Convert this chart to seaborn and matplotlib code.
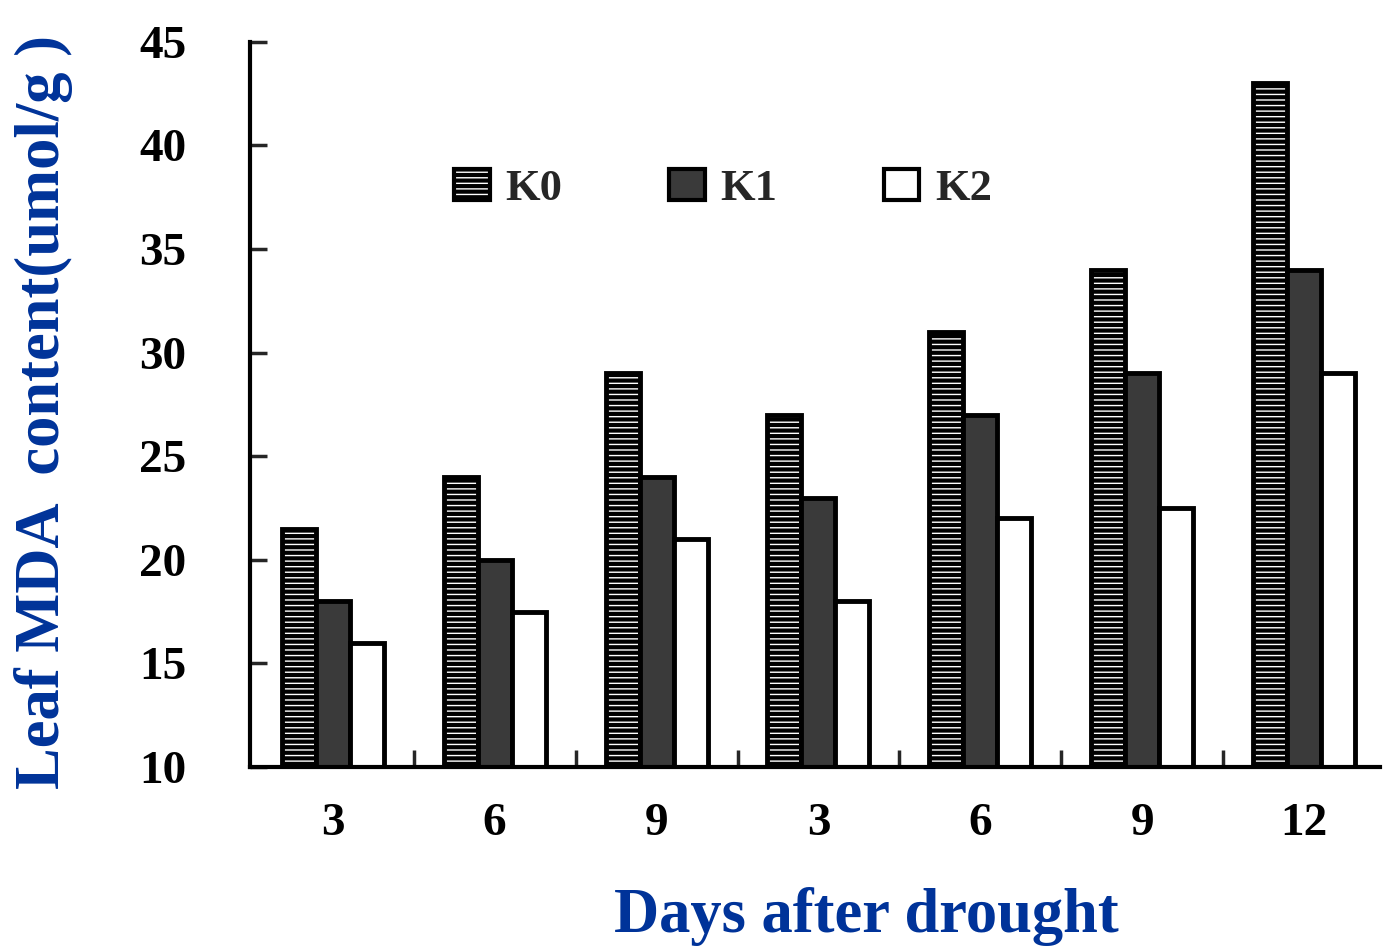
import matplotlib
matplotlib.use("Agg")
import matplotlib.pyplot as plt
import seaborn as sns
import pandas as pd
import numpy as np
from matplotlib.patches import Patch

groups = ["g1", "g2", "g3", "g4", "g5", "g6", "g7"]
day_labels = ["3", "6", "9", "3", "6", "9", "12"]
series = ["K0", "K1", "K2"]
k0 = [21.5, 24.0, 29.0, 27.0, 31.0, 34.0, 43.0]
k1 = [18.0, 20.0, 24.0, 23.0, 27.0, 29.0, 34.0]
k2 = [16.0, 17.5, 21.0, 18.0, 22.0, 22.5, 29.0]
y_ticks = [10, 15, 20, 25, 30, 35, 40, 45]

df = pd.DataFrame({
    "group": groups * 3,
    "series": ["K0"] * 7 + ["K1"] * 7 + ["K2"] * 7,
    "value": k0 + k1 + k2,
})

sns.set_theme(style="white")
plt.rcParams["font.family"] = ["Liberation Serif", "DejaVu Serif"]
plt.rcParams["hatch.linewidth"] = 3.0

fig = plt.figure(figsize=(13.9, 9.47), dpi=100)
ax = fig.add_axes([0.18, 0.19, 0.813, 0.766])

sns.barplot(data=df, x="group", y="value", hue="series", order=groups,
            hue_order=series, width=0.63, ax=ax, legend=False,
            palette=["white", "#2a2a2a", "white"], saturation=1)

styles = {
    "K0": dict(facecolor="white", edgecolor="black", hatch="---"),
    "K1": dict(facecolor="#3a3a3a", edgecolor="black", hatch=None),
    "K2": dict(facecolor="white", edgecolor="black", hatch=None),
}
for cont, name in zip(ax.containers, series):
    for bar in cont:
        st = styles[name]
        bar.set_facecolor(st["facecolor"])
        bar.set_edgecolor(st["edgecolor"])
        bar.set_linewidth(3.5)
        if st["hatch"]:
            bar.set_hatch(st["hatch"])

ax.set_ylim(10, 45)
ax.set_xlim(-0.51, 6.47)
ax.set_yticks(y_ticks)
ax.set_yticklabels([str(t) for t in y_ticks], fontsize=34, fontweight="bold", color="black")
ax.set_xticks(range(len(groups)))
ax.set_xticklabels(day_labels, fontsize=34, fontweight="bold", color="black")
ax.set_xticks(np.arange(0.5, 6.0, 1.0), minor=True)
ax.tick_params(axis="x", which="major", length=0, pad=26)
ax.tick_params(axis="x", which="minor", direction="in", length=12, width=2.5, bottom=True)
ax.tick_params(axis="y", which="major", direction="in", length=12, width=2.5, left=True, pad=46)

for s in ["top", "right"]:
    ax.spines[s].set_visible(False)
for s in ["left", "bottom"]:
    ax.spines[s].set_linewidth(3)
    ax.spines[s].set_color("black")

blue = "#003399"
ax.set_xlabel("Days after drought", fontsize=45, fontweight="bold", color=blue)
ax.set_ylabel("Leaf MDA  content(umol/g )", fontsize=45, fontweight="bold", color=blue)
ax.xaxis.set_label_coords(0.545, -0.165)
ax.yaxis.set_label_coords(-0.157, 0.49)

handles = [Patch(facecolor="white", edgecolor="black", hatch="---", linewidth=3),
           Patch(facecolor="#3a3a3a", edgecolor="black", linewidth=3),
           Patch(facecolor="white", edgecolor="black", linewidth=3)]
leg = ax.legend(handles, series, ncol=3, loc="center left", bbox_to_anchor=(0.165, 0.797),
                frameon=False, prop={"size": 32, "weight": "bold"}, columnspacing=2.4,
                handlelength=0.8, handleheight=0.7, handletextpad=0.35, borderaxespad=0)

fig.savefig("out.png", dpi=100)
